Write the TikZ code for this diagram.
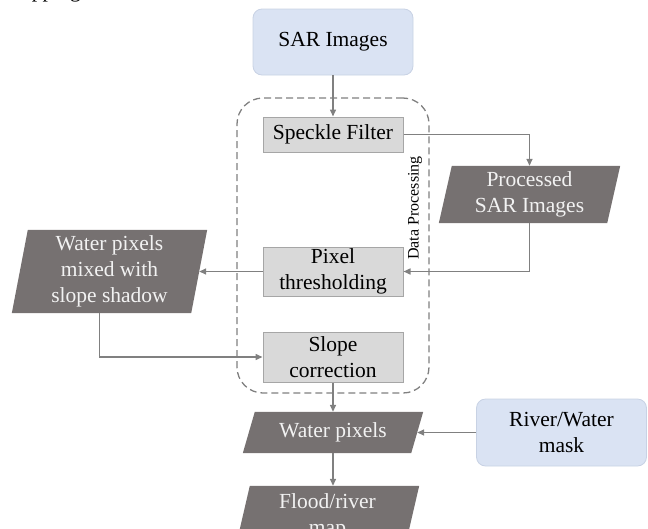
\documentclass[tikz,border=0pt]{standalone}
\usepackage{fontspec}
\setmainfont{Liberation Serif}
\usetikzlibrary{arrows.meta,backgrounds}
\definecolor{startfill}{HTML}{DAE3F3}
\definecolor{startline}{HTML}{C8D2E4}
\definecolor{procfill}{HTML}{D9D9D9}
\definecolor{procline}{HTML}{A6A6A6}
\definecolor{datafill}{HTML}{767171}
\definecolor{datatext}{HTML}{F2F2F2}
\definecolor{connline}{HTML}{808080}
\newcommand\parashape[2]{%
  \fill[datafill] ([xshift=#2pt]#1.north west) -- ([xshift=#2pt]#1.north east)
    -- ([xshift=-#2pt]#1.south east) -- ([xshift=-#2pt]#1.south west) -- cycle;}
\begin{document}
\begin{tikzpicture}[x=1pt,y=-1pt,
  every node/.style={font=\fontsize{21.5}{26}\selectfont, inner sep=0pt, align=center},
  startbox/.style={rectangle, rounded corners=9pt, fill=startfill, draw=startline, line width=0.8pt},
  procbox/.style={rectangle, fill=procfill, draw=procline, line width=1pt},
  datanode/.style={rectangle, text=datatext},
  dashbox/.style={rectangle, rounded corners=26pt, draw=connline, line width=1.3pt, dash pattern=on 7pt off 4pt},
  conn/.style={draw=connline, line width=1.5pt, -{Triangle[length=7pt,width=6pt]}}]
\useasboundingbox (0,0) rectangle (648,528);
\clip (0,0) rectangle (648,528);

\node[anchor=base east] (cap) at (81,-2.5) {Mapping};

\node[startbox, minimum width=160pt, minimum height=66pt] (sar) at (333,42) {SAR Images};
\node[dashbox, minimum width=192pt, minimum height=295pt] (dp) at (333,245.5) {};
\node[rotate=90, font=\fontsize{16}{19}\selectfont] (dplabel) at (415,208) {Data Processing};

\node[procbox, minimum width=140pt, minimum height=35pt] (spk) at (333,134.5) {Speckle Filter};
\node[procbox, minimum width=140pt, minimum height=49pt] (thr) at (333,271.5) {Pixel\\thresholding};
\node[procbox, minimum width=140pt, minimum height=50pt] (slp) at (333,357) {Slope\\correction};

\node[datanode, minimum width=168pt, minimum height=57pt] (psar) at (529.5,194.5) {Processed\\SAR Images};
\node[datanode, minimum width=179pt, minimum height=83pt] (mix) at (109.5,271.5) {Water pixels\\mixed with\\slope shadow};
\node[datanode, minimum width=168pt, minimum height=41pt] (wp) at (333,432.5) {Water pixels};
\node[datanode, minimum width=169pt, minimum height=60pt] (flood) at (327.5,516) {Flood/river\\map};
\node[startbox, minimum width=170pt, minimum height=67pt] (mask) at (561.5,432.5) {River/Water\\mask};

\begin{scope}[on background layer]
  \parashape{psar}{6.5}
  \parashape{mix}{8}
  \parashape{wp}{6}
  \parashape{flood}{7}
\end{scope}

\draw[conn] (sar) -- (spk);
\draw[conn] (spk.east) -| (psar.north);
\draw[conn] (psar.south) |- (thr.east);
\draw[conn] (thr.west) -- (mix.east);
\draw[conn] ([xshift=-10pt]mix.south) |- (slp.west);
\draw[conn] (slp) -- (wp);
\draw[conn] (mask) -- (wp.east);
\draw[conn] (wp.south) -- (wp.south |- flood.north);
\end{tikzpicture}
\end{document}
